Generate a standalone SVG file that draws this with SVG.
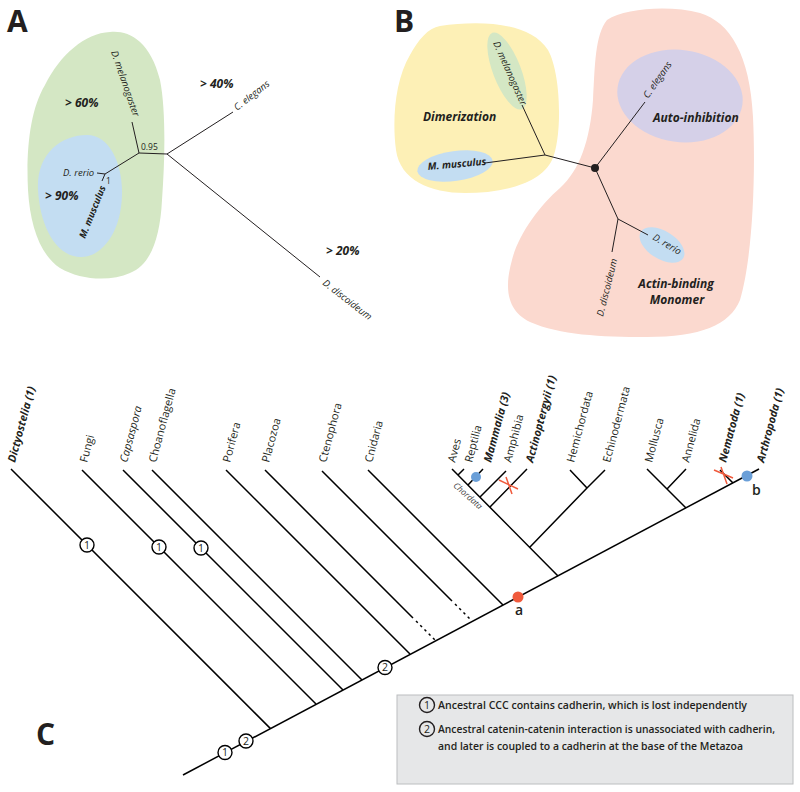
<svg xmlns="http://www.w3.org/2000/svg" width="800" height="792" viewBox="0 0 800 792">
<style>
text{font-family:"Open Sans","Liberation Sans",sans-serif;fill:#231f20}
.pl{font-size:30px;font-weight:700}
.sp{font-size:9.5px;font-style:italic}
.pct{font-size:12px;font-weight:700;font-style:italic}
.fn{font-size:12px;font-weight:700;font-style:italic}
.tx{font-size:11px}
.tb{font-size:11px;font-weight:700;font-style:italic}
.ti{font-size:11px;font-style:italic}
.lg{font-size:10.5px;font-weight:600}
.tA{stroke:#231f20;stroke-width:1;fill:none}
.tC{stroke:#000;stroke-width:1.5;fill:none;stroke-linecap:butt}
.dot{stroke:#000;stroke-width:1.5;fill:none;stroke-dasharray:2.5 3.5}
.circ{fill:#fff;stroke:#000;stroke-width:1.4}
.cn{font-size:10.5px;text-anchor:middle}
.x{stroke:#f05a3c;stroke-width:1.5;fill:none}
</style>

<!-- Panel A -->
<g id="panelA">
<text class="pl" x="7" y="32">A</text>
<path id="A-green" d="M110,32 C128,30 150,40 160,80 C166,110 165,160 162,200 C160,240 150,265 130,273 C110,282 80,280 60,268 C40,255 30,225 28,190 C26,150 30,110 45,85 C60,55 85,33 110,32 Z" fill="#d4e7c4"/>
<path id="A-blue" d="M87,135 C110,135 123,165 122,195 C121,235 100,258 80,257 C55,256 40,225 38,190 C36,155 60,135 87,135 Z" fill="#c3ddf2"/>
<g id="A-tree">
<path class="tA" d="M139,153 L167,154 L233,112 M167,154 L320,277 M139,153 L132,122 M139,153 L105,174 L97,173 M105,174 L102,181"/>
</g>
<text class="sp" transform="translate(111,52) rotate(71)">D. melanogaster</text>
<text class="pct" x="65" y="107">&gt; 60%</text>
<text x="141" y="150" style="font-size:8.5px">0.95</text>
<text class="sp" x="63" y="176">D. rerio</text>
<text x="106" y="184" style="font-size:8.5px">1</text>
<text class="pct" x="45" y="200">&gt; 90%</text>
<text class="sp" style="font-weight:700" transform="translate(85,239) rotate(-68)">M. musculus</text>
<text class="pct" x="200" y="88">&gt; 40%</text>
<text class="sp" transform="translate(237,111) rotate(-38)">C. elegans</text>
<text class="pct" x="326" y="255">&gt; 20%</text>
<text class="sp" transform="translate(322,284) rotate(38)">D. discoideum</text>
</g>

<!-- Panel B -->
<g id="panelB">
<text class="pl" x="394" y="32">B</text>
<path id="B-yellow" d="M440,26 C480,20 530,22 548,50 C562,75 562,140 552,160 C540,185 500,193 465,193 C430,193 400,180 396,150 C392,120 395,80 410,55 C418,40 428,28 440,26 Z" fill="#fdf0b6"/>
<path id="B-pink" d="M607,20 C625,8 670,5 700,13 C730,22 750,55 753,117 C756,180 752,260 740,300 C730,325 700,337 647,337 C600,337 560,335 530,322 C505,310 505,285 512,260 C518,235 540,205 560,188 C580,170 590,140 593,100 C595,65 595,35 607,20 Z" fill="#fbd9cf"/>
<ellipse id="B-green" cx="507" cy="71" rx="41" ry="14" transform="rotate(69 507 71)" fill="#d4e7c4"/>
<ellipse id="B-blue1" cx="455" cy="166" rx="38" ry="15" transform="rotate(-8 455 166)" fill="#c3ddf2"/>
<ellipse id="B-purple" cx="680" cy="96" rx="63" ry="46" transform="rotate(8 680 96)" fill="#d5d0e8"/>
<ellipse id="B-blue2" cx="662" cy="245" rx="25" ry="14" transform="rotate(32 662 245)" fill="#c3ddf2"/>
<g id="B-tree">
<path class="tA" d="M595,168 L545,155 L485,163 M545,155 L522,105 M595,168 L645,102 M595,168 L618,219 L648,235 M618,219 L612,252"/>
<circle cx="595" cy="168" r="4" fill="#231f20"/>
</g>
<text class="sp" transform="translate(493,43) rotate(66)">D. melanogaster</text>
<text class="fn" x="423" y="121">Dimerization</text>
<text class="sp" style="font-weight:700;font-size:10px" transform="translate(428,170) rotate(-5)">M. musculus</text>
<text class="sp" transform="translate(648,99) rotate(-55)">C. elegans</text>
<text class="fn" x="653" y="122">Auto-inhibition</text>
<text class="sp" transform="translate(652,239) rotate(31)">D. rerio</text>
<text class="sp" transform="translate(603,317) rotate(-76)">D. discoideum</text>
<text class="fn" x="676" y="288" text-anchor="middle">Actin-binding</text>
<text class="fn" x="677" y="304" text-anchor="middle">Monomer</text>
</g>

<!-- Panel C -->
<g id="panelC">
<text class="pl" x="36" y="745">C</text>
<g id="connectors">
<path class="tC" d="M183,775 L759,469"/>
<path class="tC" d="M11,469 L270.5,728.6 M82,470 L316,704 M123,470 L343,690 M152,470 L362,680 M226,470 L410,654 M265,470 L413,618 M322,471 L452,601 M368,470 L503,605"/>
<path class="dot" d="M416,621 L436,641 M455,604 L472,621"/>
<path class="tC" d="M452,469 L558,576 M458,475 L464,469 M468,485 L483,469 M480,497 L506,471 M490,507 L527,469 M530,547 L587,488 L570,470 M587,488 L605,470 M647,469 L686,508 M667,489 L686,469 M720,470 L733,483"/>
</g>
<g id="markers">
<circle cx="518" cy="597" r="5.5" fill="#f05a3c"/>
<circle cx="476" cy="477" r="5" fill="#6a9fd8"/>
<circle cx="747" cy="476" r="5.5" fill="#6a9fd8"/>
<path class="x" d="M499,480 L518,489 M506,477 L512,494"/>
<path class="x" d="M714,470 L733,478 M721,467 L727,484"/>
<text x="515" y="615" style="font-size:14px;font-weight:600">a</text>
<text x="752" y="495" style="font-size:14px;font-weight:600">b</text>
<text transform="translate(466,498) rotate(42)" text-anchor="middle" style="font-size:8.5px;font-style:italic;fill:#444">Chordata</text>
</g>
<g id="events">
<circle class="circ" cx="87" cy="545" r="7"/><text class="cn" x="87" y="548.7">1</text>
<circle class="circ" cx="159" cy="547" r="7"/><text class="cn" x="159" y="550.7">1</text>
<circle class="circ" cx="201" cy="548" r="7"/><text class="cn" x="201" y="551.7">1</text>
<circle class="circ" cx="225" cy="752.5" r="7"/><text class="cn" x="225" y="756.2">1</text>
<circle class="circ" cx="246" cy="741" r="7"/><text class="cn" x="246" y="744.7">2</text>
<circle class="circ" cx="385" cy="667.5" r="7"/><text class="cn" x="385" y="671.2">2</text>
</g>
<g id="taxa">
<text class="tb" transform="translate(15,463) rotate(-75)">Dictyostelia (1)</text>
<text class="tx" transform="translate(87,463) rotate(-75)">Fungi</text>
<text class="ti" transform="translate(127,463) rotate(-75)">Capsaspora</text>
<text class="tx" transform="translate(156,463) rotate(-75)">Choanoflagella</text>
<text class="tx" transform="translate(230,463) rotate(-75)">Porifera</text>
<text class="tx" transform="translate(269,463) rotate(-75)">Placozoa</text>
<text class="tx" transform="translate(326,463) rotate(-75)">Ctenophora</text>
<text class="tx" transform="translate(372,463) rotate(-75)">Cnidaria</text>
<text class="tx" transform="translate(455,463) rotate(-75)">Aves</text>
<text class="tx" transform="translate(472,463) rotate(-75)">Reptilia</text>
<text class="tb" transform="translate(491,463) rotate(-75)">Mammalia (3)</text>
<text class="tx" transform="translate(511,463) rotate(-75)">Amphibia</text>
<text class="tb" transform="translate(533,463) rotate(-75)">Actinoptergyii (1)</text>
<text class="tx" transform="translate(574,463) rotate(-75)">Hemichordata</text>
<text class="tx" transform="translate(610,463) rotate(-75)">Echinodermata</text>
<text class="tx" transform="translate(652,463) rotate(-75)">Mollusca</text>
<text class="tx" transform="translate(689,463) rotate(-75)">Annelida</text>
<text class="tb" transform="translate(726,463) rotate(-75)">Nematoda (1)</text>
<text class="tb" transform="translate(764,463) rotate(-75)">Arthropoda (1)</text>
</g>
<g id="legend">
<rect x="397" y="695" width="396" height="89" fill="#e6e7e8" stroke="#bcbec0" stroke-width="1"/>
<circle cx="427" cy="705" r="7.5" fill="none" stroke="#231f20" stroke-width="1.4"/><text class="cn" x="427" y="708.8">1</text>
<text class="lg" x="438" y="709" textLength="309" lengthAdjust="spacingAndGlyphs">Ancestral CCC contains cadherin, which is lost independently</text>
<circle cx="427" cy="729" r="7.5" fill="none" stroke="#231f20" stroke-width="1.4"/><text class="cn" x="427" y="732.8">2</text>
<text class="lg" x="438" y="733" textLength="337" lengthAdjust="spacingAndGlyphs">Ancestral catenin-catenin interaction is unassociated with cadherin,</text>
<text class="lg" x="438" y="750" textLength="305" lengthAdjust="spacingAndGlyphs">and later is coupled to a cadherin at the base of the Metazoa</text>
</g>
</g>
</svg>
